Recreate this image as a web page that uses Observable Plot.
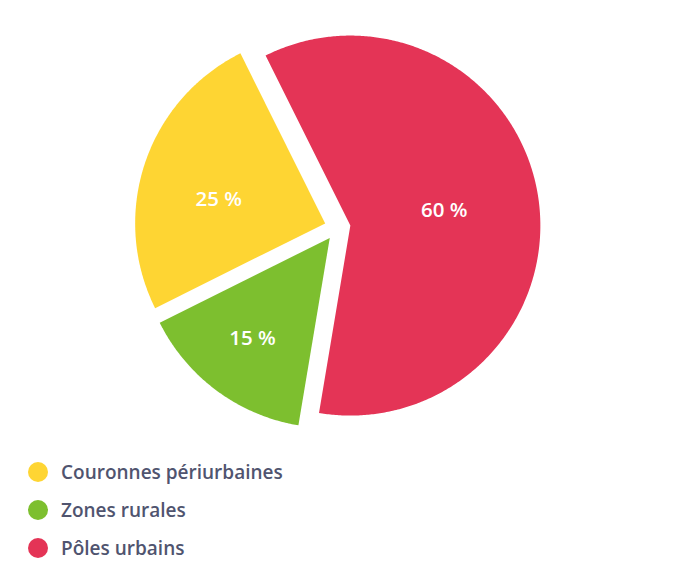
<!DOCTYPE html>
<html>
<head>
<meta charset="utf-8">
<script src="https://cdn.jsdelivr.net/npm/d3@7"></script>
<script src="https://cdn.jsdelivr.net/npm/@observablehq/plot@0.6"></script>
<style>
  html, body { margin: 0; padding: 0; background: #fff; }
  body { width: 676px; height: 574px; overflow: hidden; font-family: "Open Sans", Lato, sans-serif; }
  #legend { margin-top: 3px; }
  .row { display: flex; align-items: center; height: 38px; padding-left: 28px; }
  .sw { width: 20px; height: 20px; border-radius: 50%; margin-right: 13px; flex: none; }
  .lab { font-size: 19px; font-weight: 600; color: #50546f; }
</style>
</head>
<body>
<div id="chart"></div>
<div id="legend"></div>
<script>
// Data (pie order, clockwise from the top-left)
const categories = ["Pôles urbains", "Zones rurales", "Couronnes périurbaines"];
const values = [60, 15, 25];
const labels = ["60 %", "15 %", "25 %"];
const colors = ["#e43456", "#7dbf2f", "#fed533"];
const legendOrder = ["Couronnes périurbaines", "Zones rurales", "Pôles urbains"];

// Layout
const W = 676, H = 450;
const cx = 337, cy = 227, R = 190;
const startDeg = -26.5;
const explode = 13 / R;

const a0 = startDeg * Math.PI / 180;
const arcs = d3.pie().sort(null).value(d => d).startAngle(a0).endAngle(a0 + 2 * Math.PI)(values);

const pts = [];
const labelPts = [];
arcs.forEach((a, i) => {
  const mid = (a.startAngle + a.endAngle) / 2;
  const ox = explode * Math.sin(mid), oy = explode * Math.cos(mid);
  pts.push({k: categories[i], x: ox, y: oy});
  const n = Math.ceil((a.endAngle - a.startAngle) / (Math.PI / 360));
  for (let j = 0; j <= n; j++) {
    const t = a.startAngle + (a.endAngle - a.startAngle) * j / n;
    pts.push({k: categories[i], x: ox + Math.sin(t), y: oy + Math.cos(t)});
  }
  const half = (a.endAngle - a.startAngle) / 2;
  const lr = Math.max(0.81 - 0.3 * half, 0.5);
  const la = mid + (half < 0.6 ? 0.016 : half < 1.5 ? -0.1 : -0.01);
  labelPts.push({k: categories[i], t: labels[i], x: ox + lr * Math.sin(la), y: oy + lr * Math.cos(la)});
});

const chart = Plot.plot({
  width: W,
  height: H,
  margin: 0,
  x: {domain: [-1, 1], range: [cx - R, cx + R], axis: null},
  y: {domain: [-1, 1], range: [cy + R, cy - R], axis: null},
  color: {type: "ordinal", domain: categories, range: colors},
  style: {fontFamily: "'Open Sans', Lato, sans-serif", background: "#fff"},
  marks: [
    Plot.line(pts, {x: "x", y: "y", z: "k", fill: "k", stroke: "none", curve: "linear"}),
    Plot.text(labelPts, {x: "x", y: "y", text: "t", fill: "#fff", fontSize: 20.5, fontWeight: 600})
  ]
});
document.getElementById("chart").appendChild(chart);

const legend = document.getElementById("legend");
legendOrder.forEach(name => {
  const row = document.createElement("div");
  row.className = "row";
  const sw = document.createElement("span");
  sw.className = "sw";
  sw.style.background = colors[categories.indexOf(name)];
  const lab = document.createElement("span");
  lab.className = "lab";
  lab.textContent = name;
  row.appendChild(sw);
  row.appendChild(lab);
  legend.appendChild(row);
});
</script>
</body>
</html>
